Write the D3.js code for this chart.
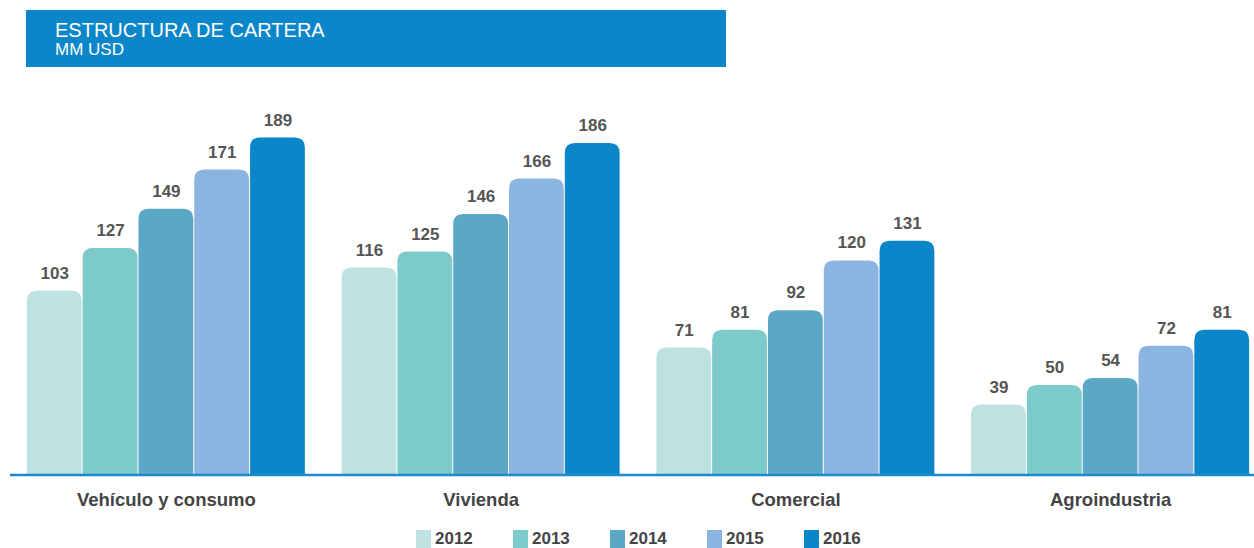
<!DOCTYPE html>
<html>
<head>
<meta charset="utf-8">
<script src="https://cdn.jsdelivr.net/npm/d3@7"></script>
<style>
  body { margin: 0; background: #fff; }
  svg { display: block; font-family: "Liberation Sans", Arial, sans-serif; }
</style>
</head>
<body>
<svg id="chart" width="1254" height="548"></svg>
<script>
// data
var categories = ["Vehículo y consumo", "Vivienda", "Comercial", "Agroindustria"];
var years = ["2012", "2013", "2014", "2015", "2016"];
var values = {
  "Vehículo y consumo": [103, 127, 149, 171, 189],
  "Vivienda": [116, 125, 146, 166, 186],
  "Comercial": [71, 81, 92, 120, 131],
  "Agroindustria": [39, 50, 54, 72, 81]
};
var colors = ["#bde2e1", "#7ccbca", "#5ba7c6", "#8cb4e0", "#0b86c9"];

var svg = d3.select("#chart");
var base = 474;

// header band
svg.append("rect").attr("x", 26).attr("y", 10).attr("width", 700).attr("height", 57)
  .attr("fill", "#0b87c9");
svg.append("text").attr("x", 55).attr("y", 37).attr("fill", "#fff")
  .style("font-size", "20px").text("ESTRUCTURA DE CARTERA");
svg.append("text").attr("x", 55).attr("y", 55).attr("fill", "#fff")
  .style("font-size", "17px").text("MM USD");

var x0 = d3.scaleBand().domain(categories).range([9, 1268])
  .paddingInner(0.1136).paddingOuter(0.0568);
var x1 = d3.scaleBand().domain(years).range([0, x0.bandwidth()]);
var y = d3.scaleLinear().domain([0, 200]).range([base, base - 356]);

var color = d3.scaleOrdinal().domain(years).range(colors);

function topRounded(x, y0, w, h, r) {
  r = Math.min(r, h, w / 2);
  return "M" + x + "," + (y0 + h) +
    "V" + (y0 + r) +
    "Q" + x + "," + y0 + " " + (x + r) + "," + y0 +
    "H" + (x + w - r) +
    "Q" + (x + w) + "," + y0 + " " + (x + w) + "," + (y0 + r) +
    "V" + (y0 + h) + "Z";
}

var groups = svg.selectAll("g.grp").data(categories).join("g")
  .attr("class", "grp")
  .attr("transform", function(c) { return "translate(" + x0(c) + ",0)"; });

var bars = groups.selectAll("g.bar").data(function(c) {
  return years.map(function(yr, i) { return { cat: c, year: yr, v: values[c][i] }; });
}).join("g").attr("class", "bar");

bars.append("path")
  .attr("d", function(d) {
    return topRounded(x1(d.year), y(d.v), x1.bandwidth() - 1, base - y(d.v), 10);
  })
  .attr("fill", function(d) { return color(d.year); });

bars.append("text")
  .attr("x", function(d) { return x1(d.year) + x1.bandwidth() / 2; })
  .attr("y", function(d) { return y(d.v) - 12; })
  .attr("text-anchor", "middle")
  .attr("fill", "#555")
  .style("font-size", "17px").style("font-weight", "bold")
  .text(function(d) { return d.v; });

// baseline
svg.append("line").attr("x1", 10).attr("x2", 1254).attr("y1", base + 1).attr("y2", base + 1)
  .attr("stroke", "#1a8ccd").attr("stroke-width", 2.5);

// category labels
svg.selectAll("text.cat").data(categories).join("text")
  .attr("class", "cat")
  .attr("x", function(c) { return x0(c) + x0.bandwidth() / 2; })
  .attr("y", 506)
  .attr("text-anchor", "middle")
  .attr("fill", "#444")
  .style("font-size", "18.5px").style("font-weight", "bold")
  .text(function(c) { return c; });

// legend
var lx = d3.scalePoint().domain(years).range([416, 804]);
var leg = svg.selectAll("g.leg").data(years).join("g").attr("class", "leg")
  .attr("transform", function(yr) { return "translate(" + lx(yr) + ",0)"; });
leg.append("rect").attr("x", 0).attr("y", 530).attr("width", 15).attr("height", 18)
  .attr("fill", function(yr) { return color(yr); });
leg.append("text").attr("x", 19).attr("y", 544).attr("fill", "#444")
  .style("font-size", "17px").style("font-weight", "bold")
  .text(function(yr) { return yr; });
</script>
</body>
</html>
